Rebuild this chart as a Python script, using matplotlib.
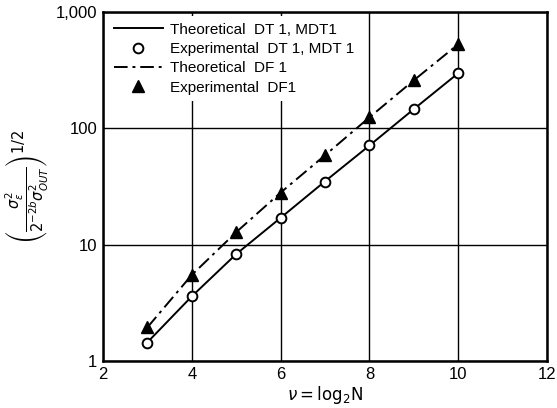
import numpy as np
import matplotlib.pyplot as plt
import matplotlib.ticker as mticker

plt.rcParams['font.family'] = ['Liberation Sans', 'DejaVu Sans']
plt.rcParams['mathtext.fontset'] = 'dejavusans'

# values
nu = [3, 4, 5, 6, 7, 8, 9, 10]
theo_dt = [1.45, 3.6, 8.3, 17.0, 35.0, 71.0, 146.0, 297.0]
exp_dt = [1.43, 3.6, 8.3, 16.9, 34.4, 71.5, 146.0, 297.0]
theo_df = [1.95, 5.5, 12.8, 28.0, 58.6, 124.0, 258.0, 527.0]
exp_df = [1.95, 5.5, 12.8, 28.0, 58.6, 124.0, 258.0, 527.0]

yticks = [1, 10, 100, 1000]
yticklabels = ['1', '10', '100', '1,000']
xticks = [2, 4, 6, 8, 10, 12]

fig = plt.figure(figsize=(5.57, 4.08), dpi=100)
ax = fig.add_axes([0.185, 0.115, 0.797, 0.856])

ax.plot(nu, theo_dt, color='black', lw=1.4, label='Theoretical  DT 1, MDT1')
ax.plot(nu, exp_dt, ls='none', marker='o', ms=7, mfc='white', mec='black',
        mew=1.4, label='Experimental  DT 1, MDT 1')
ax.plot(nu, theo_df, color='black', lw=1.4, ls=(0, (7, 2.5, 1.5, 2.5)),
        label='Theoretical  DF 1')
ax.plot(nu, exp_df, ls='none', marker='^', ms=8, color='black',
        label='Experimental  DF1')

ax.set_yscale('log')
ax.set_xlim(2, 12)
ax.set_ylim(1, 1000)
ax.set_xticks(xticks)
ax.set_yticks(yticks)
ax.set_yticklabels(yticklabels)
ax.yaxis.set_minor_locator(mticker.NullLocator())
ax.tick_params(length=0, labelsize=12, pad=4)
ax.grid(True, color='black', lw=1.0)
for s in ax.spines.values():
    s.set_linewidth(1.8)

ax.set_xlabel(r'$\nu = \mathrm{log_2 N}$', fontsize=12, labelpad=2)
ax.set_ylabel(r'$\left(\frac{\sigma_\epsilon^2}{2^{-2b}\sigma_{OUT}^2}\right)^{1/2}$',
              fontsize=15, labelpad=4)

leg = ax.legend(loc='upper left', frameon=True, fontsize=11, handlelength=3.2,
                borderaxespad=0.3, labelspacing=0.35, handletextpad=0.5)
leg.get_frame().set_edgecolor('none')
leg.get_frame().set_facecolor('white')
leg.get_frame().set_alpha(1)

fig.savefig('out.png', dpi=100)
